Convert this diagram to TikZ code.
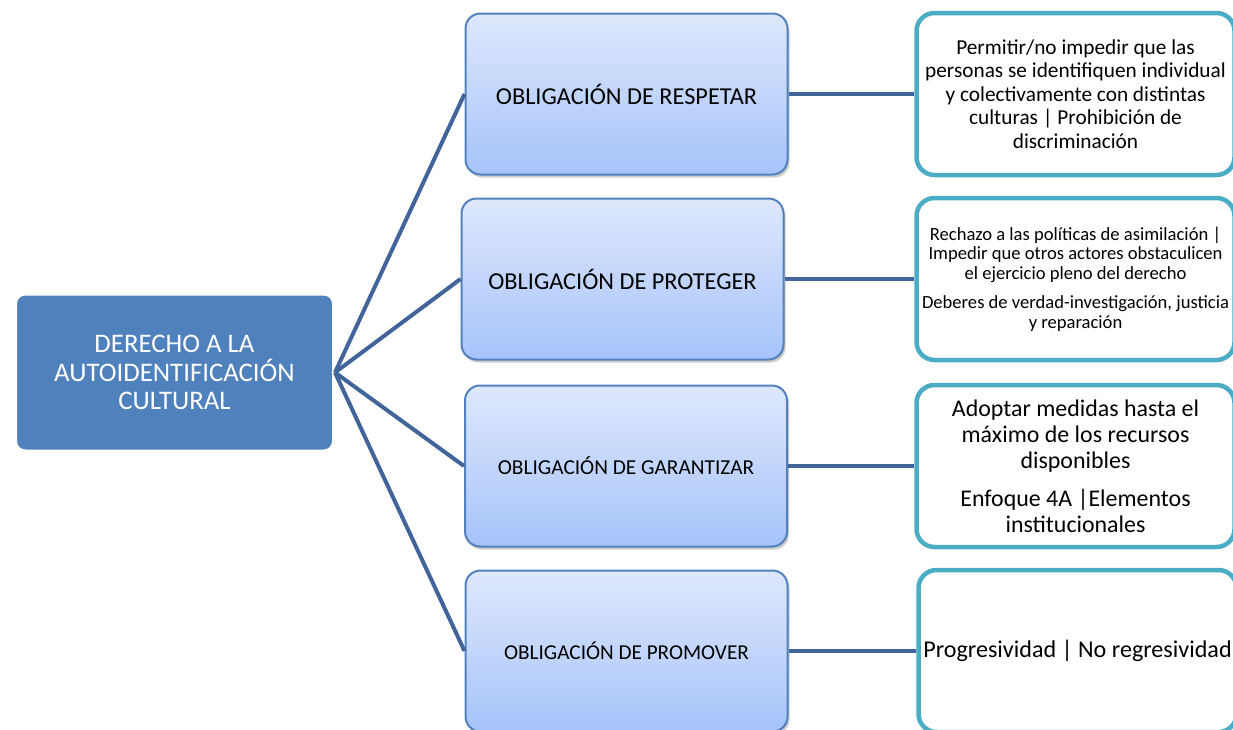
\documentclass[tikz,border=0pt]{standalone}
\usepackage{fontspec}
\setmainfont{Carlito}
\usetikzlibrary{shadows}
\definecolor{rootblue}{HTML}{4F81BD}
\definecolor{midtop}{HTML}{DEE8FC}
\definecolor{midbot}{HTML}{A6C3FA}
\definecolor{midborder}{HTML}{5282BE}
\definecolor{tealb}{HTML}{4BACC6}
\definecolor{linkc}{HTML}{41659A}
\begin{document}
\begin{tikzpicture}[x=1pt,y=-1pt,
  rootbox/.style={draw=white, line width=8pt, fill=rootblue, rounded corners=12pt,
    minimum width=323pt, minimum height=162pt, align=center, text=white,
    font=\fontsize{26.8}{28.5}\selectfont,
    drop shadow={shadow xshift=2pt, shadow yshift=-3pt, fill=black!35, opacity=0.6}},
  midbox/.style={draw=midborder, line width=2pt, top color=midtop, bottom color=midbot,
    rounded corners=15pt, minimum width=322pt, minimum height=161pt, align=center,
    font=\fontsize{24.3}{28}\selectfont,
    drop shadow={shadow xshift=2pt, shadow yshift=-3pt, fill=black!40, opacity=0.5}},
  rbox/.style={draw=tealb, line width=4.5pt, fill=white, rounded corners=18pt,
    minimum width=318pt, minimum height=162pt, align=center},
  link/.style={draw=linkc, line width=4pt}
]
\useasboundingbox (0,0) rectangle (1233,729);
\clip (0,0) rectangle (1233,729);

\node[rootbox] (root) at (174.5,372.5) {DERECHO A LA\\AUTOIDENTIFICACIÓN\\CULTURAL};

\node[midbox] (m1) at (626.5,94) {OBLIGACIÓN DE RESPETAR};
\node[midbox] (m2) at (622.5,279) {OBLIGACIÓN DE PROTEGER};
\node[midbox, font=\fontsize{21.3}{25}\selectfont] (m3) at (626,466) {OBLIGACIÓN DE GARANTIZAR};
\node[midbox, font=\fontsize{21.2}{25}\selectfont] (m4) at (626.5,651) {OBLIGACIÓN DE PROMOVER};

\node[rbox, font=\fontsize{21.3}{23.5}\selectfont] (r1) at (1075.5,94)
  {Permitir/no impedir que las\\personas se identifiquen individual\\y colectivamente con distintas\\culturas | Prohibición de\\discriminación};
\node[rbox, font=\fontsize{18.6}{19.7}\selectfont] (r2) at (1075.5,279)
  {Rechazo a las políticas de asimilación |\\Impedir que otros actores obstaculicen\\el ejercicio pleno del derecho\\[9.5pt]Deberes de verdad-investigación, justicia\\y reparación};
\node[rbox, font=\fontsize{23.9}{26}\selectfont] (r3) at (1075.5,466)
  {Adoptar medidas hasta el\\máximo de los recursos\\disponibles\\[12pt]Enfoque 4A |Elementos\\institucionales};
\node[rbox, font=\fontsize{24.1}{26}\selectfont] (r4) at (1077.5,651)
  {Progresividad | No regresividad};

\coordinate (hub) at ([xshift=-5pt]root.east);
\foreach \m in {m1,m2,m3,m4} { \draw[link] (hub) -- (\m.west); }
\draw[link] (m1.east) -- (m1.east -| r1.west);
\draw[link] (m2.east) -- (m2.east -| r2.west);
\draw[link] (m3.east) -- (m3.east -| r3.west);
\draw[link] (m4.east) -- (m4.east -| r4.west);
\end{tikzpicture}
\end{document}
